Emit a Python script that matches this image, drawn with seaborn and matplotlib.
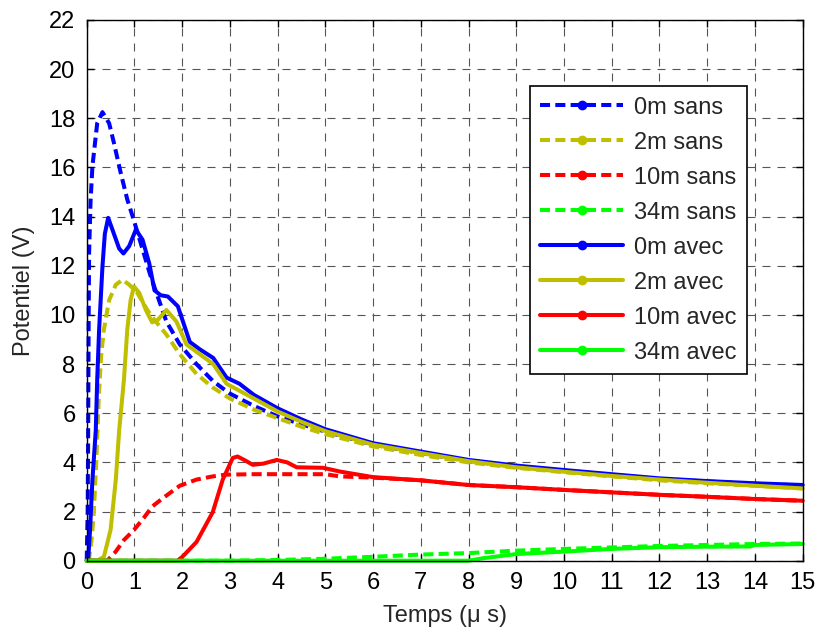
import matplotlib
matplotlib.use("Agg")
import matplotlib.pyplot as plt
from matplotlib.lines import Line2D
import seaborn as sns
import pandas as pd

# ---------------- data (time in µs, potential in V) ----------------
x_0m_sans = [0, 0.02, 0.03, 0.04, 0.05, 0.08, 0.12, 0.22, 0.33, 0.47, 0.57, 0.71, 0.85, 0.98, 1.13, 1.34,
             1.67, 1.95, 2.3, 2.65, 3, 3.5, 4, 4.5, 5, 6, 7, 8, 9, 10, 11, 12, 13, 14, 15]
y_0m_sans = [0, 2, 5, 9.4, 12.5, 14.6, 16.05, 17.8, 18.25, 17.8, 17.0, 15.8, 14.7, 13.9, 12.93, 11.57,
             9.73, 8.8, 8.0, 7.3, 6.8, 6.3, 5.87, 5.55, 5.25, 4.72, 4.38, 4.05, 3.83, 3.65, 3.49, 3.33, 3.22, 3.13, 3.06]

x_2m_sans = [0, 0.05, 0.1, 0.15, 0.2, 0.25, 0.3, 0.36, 0.47, 0.61, 0.75, 0.89, 1.06, 1.27, 1.39, 1.67,
             1.95, 2.3, 2.64, 3, 3.5, 4, 4.5, 5, 6, 7, 8, 9, 10, 11, 12, 13, 14, 15]
y_2m_sans = [0, 0.1, 0.8, 2.0, 4.0, 6.5, 8.3, 9.4, 10.6, 11.23, 11.43, 11.23, 10.9, 10.2, 9.87, 9.2,
             8.4, 7.6, 7.05, 6.6, 6.15, 5.8, 5.45, 5.15, 4.65, 4.3, 4.0, 3.78, 3.6, 3.43, 3.27, 3.15, 3.05, 2.94]

x_10m_sans = [0, 0.43, 0.6, 0.78, 0.99, 1.2, 1.37, 1.6, 1.95, 2.3, 2.64, 2.9, 3.5, 4, 5, 5.3, 6,
              7, 8, 9, 10, 11, 12, 13, 14, 15]
y_10m_sans = [0, 0, 0.35, 0.84, 1.25, 1.75, 2.2, 2.55, 3.05, 3.3, 3.43, 3.5, 3.52, 3.52, 3.52, 3.43, 3.38,
              3.27, 3.08, 2.99, 2.88, 2.78, 2.68, 2.6, 2.51, 2.44]

x_34m_sans = [0, 3, 4, 5, 6, 7, 8, 9, 10, 11, 12, 13, 14, 15]
y_34m_sans = [0, 0, 0.03, 0.08, 0.16, 0.25, 0.31, 0.41, 0.48, 0.54, 0.6, 0.64, 0.68, 0.7]

x_0m_avec = [0, 0.03, 0.07, 0.12, 0.19, 0.22, 0.26, 0.33, 0.38, 0.45, 0.57, 0.68, 0.77, 0.89, 1.03, 1.17,
             1.31, 1.42, 1.55, 1.7, 1.91, 2.16, 2.37, 2.65, 2.93, 3.2, 3.5, 4, 4.5, 5, 6, 7, 8, 9, 10,
             11, 12, 13, 14, 15]
y_0m_avec = [0, 0, 1.25, 3.3, 5.3, 7.36, 9.4, 11.97, 13.3, 13.95, 13.3, 12.7, 12.5, 12.8, 13.47, 13.06,
             12.1, 11.0, 10.8, 10.75, 10.35, 8.9, 8.6, 8.25, 7.45, 7.2, 6.75, 6.2, 5.75, 5.35, 4.78, 4.44,
             4.1, 3.87, 3.69, 3.52, 3.35, 3.24, 3.15, 3.08]

x_2m_avec = [0, 0.22, 0.36, 0.5, 0.61, 0.68, 0.78, 0.85, 0.92, 0.99, 1.1, 1.24, 1.37, 1.49, 1.67, 1.88,
             2.09, 2.37, 2.65, 2.93, 3.5, 4, 4.5, 5, 6, 7, 8, 9, 10, 11, 12, 13, 14, 15]
y_2m_avec = [0, 0, 0.16, 1.25, 3.3, 5.3, 7.36, 9.4, 10.6, 11.16, 10.9, 10.2, 9.7, 9.8, 10.2, 9.73,
             8.8, 8.4, 8.0, 7.2, 6.6, 6.07, 5.65, 5.27, 4.72, 4.38, 4.05, 3.8, 3.62, 3.45, 3.3, 3.17, 3.05, 2.94]

x_10m_avec = [0, 1.9, 2.0, 2.3, 2.64, 2.85, 3.06, 3.16, 3.3, 3.48, 3.7, 3.98, 4.2, 4.4, 4.95, 5.3, 6,
              7, 8, 9, 10, 11, 12, 13, 14, 15]
y_10m_avec = [0, 0, 0.15, 0.76, 1.97, 3.3, 4.18, 4.24, 4.1, 3.9, 3.95, 4.1, 4.0, 3.8, 3.78, 3.63, 3.4,
              3.27, 3.08, 2.99, 2.88, 2.78, 2.68, 2.6, 2.51, 2.44]

x_34m_avec = [0, 8, 8.3, 9, 10, 11, 12, 13, 13.9, 14, 15]
y_34m_avec = [0, 0, 0.1, 0.27, 0.37, 0.48, 0.55, 0.57, 0.58, 0.64, 0.68]

labels = ["0m sans", "2m sans", "10m sans", "34m sans", "0m avec", "2m avec", "10m avec", "34m avec"]
xticks = list(range(0, 16))
yticks = list(range(0, 23, 2))

# ---------------- style ----------------
sns.set_style("ticks")
plt.rcParams["font.family"] = ["Liberation Sans", "DejaVu Sans"]
FS = 17
plt.rcParams["font.size"] = FS

colors = {"0m": "#0000FF", "2m": "#BFBF00", "10m": "#FF0000", "34m": "#00FF00"}

series = [
    (x_0m_sans, y_0m_sans, colors["0m"], True),
    (x_2m_sans, y_2m_sans, colors["2m"], True),
    (x_10m_sans, y_10m_sans, colors["10m"], True),
    (x_34m_sans, y_34m_sans, colors["34m"], True),
    (x_0m_avec, y_0m_avec, colors["0m"], False),
    (x_2m_avec, y_2m_avec, colors["2m"], False),
    (x_10m_avec, y_10m_avec, colors["10m"], False),
    (x_34m_avec, y_34m_avec, colors["34m"], False),
]

fig = plt.figure(figsize=(8.2, 6.35), dpi=100)
ax = fig.add_axes([86.7 / 820, 1 - 560.7 / 635, (802.7 - 86.7) / 820, (560.7 - 20) / 635])

lw = 2.9
dash = (0, (2.5, 1.3))
handles = []
for xs, ys, col, dashed in series:
    df = pd.DataFrame({"t": xs, "v": ys})
    ls = dash if dashed else "-"
    sns.lineplot(data=df, x="t", y="v", ax=ax, color=col, lw=lw, estimator=None, sort=False,
                 linestyle=ls, legend=False)
    ax.lines[-1].set_clip_on(False)
    handles.append(Line2D([0], [0], color=col, lw=lw, linestyle=ls,
                          marker="o", markersize=6, markerfacecolor=col, markeredgecolor=col))

ax.set_xlim(0, 15)
ax.set_ylim(0, 22)
ax.set_xticks(xticks)
ax.set_yticks(yticks)
ax.grid(True, color="#555555", linestyle=(0, (7.2, 6.3)), linewidth=0.8)
ax.set_axisbelow(True)
ax.tick_params(direction="in", length=5, width=1, top=True, right=True, pad=8, labelsize=FS, colors="black")
for s in ax.spines.values():
    s.set_visible(True)
    s.set_color("black")
    s.set_linewidth(1.0)

ax.set_xlabel("Temps (μ s)", fontsize=FS, labelpad=8)
ax.set_ylabel("Potentiel (V)", fontsize=FS, labelpad=10)

leg = ax.legend(handles, labels, loc="upper right",
                bbox_to_anchor=((746.7 - 86.7) / 716, (560.7 - 86) / 540.7),
                borderaxespad=0, fontsize=FS, handlelength=3.5, handletextpad=0.45,
                labelspacing=0.55, borderpad=0.45, fancybox=False, framealpha=1,
                edgecolor="black")
leg.get_frame().set_linewidth(1.2)

fig.savefig("out.png", dpi=100, facecolor="white")
